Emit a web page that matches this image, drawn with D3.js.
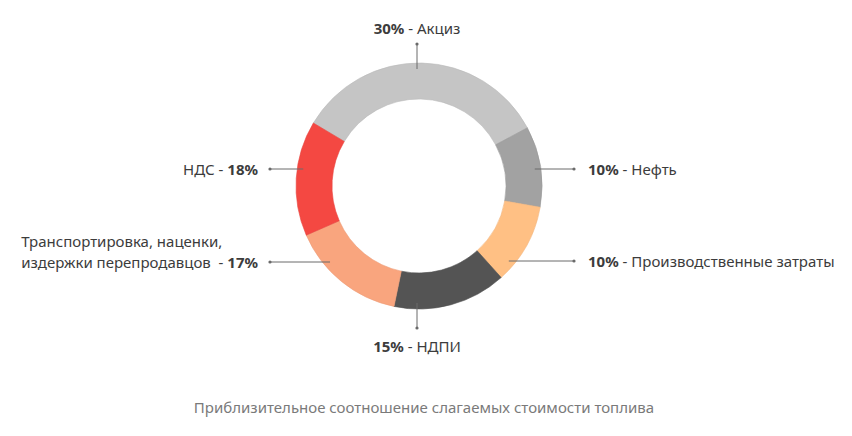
<!DOCTYPE html>
<html>
<head>
<meta charset="utf-8">
<script src="https://cdn.jsdelivr.net/npm/d3@7"></script>
<style>
  body { margin: 0; background: #fff; }
  text { font-family: "Noto Sans", "Open Sans", sans-serif; white-space: pre; }
</style>
</head>
<body>
<svg id="chart" width="852" height="436"></svg>
<script>
// data
const categories = ["Акциз", "Нефть", "Производственные затраты", "НДПИ",
    "Транспортировка, наценки,\nиздержки перепродавцов ", "НДС"];
const shares = [33.6, 10.6, 10.6, 14.9, 15.2, 15.1];   // slice sizes as drawn
const labelPct = [30, 10, 10, 15, 17, 18];             // percentages printed in labels
const colors = ["#c5c5c5", "#a2a2a2", "#ffc084", "#545454", "#f9a57e", "#f44842"];
const title = "Приблизительное соотношение слагаемых стоимости топлива";

// label layout: side of the donut and the coordinate of the leader line
const labelSide = ["top", "right", "right", "bottom", "left", "left"];
const labelPos = [417, 169, 261, 417, 262, 169];

const cx = 419, cy = 186, rOuter = 123, rInner = 87, rAnchor = 117;
const startAngle = -59.2 * Math.PI / 180;
const fontSize = 15;

let svg = d3.select("#chart");
let g = svg.append("g").attr("transform", `translate(${cx},${cy})`);

let pie = d3.pie()
    .value(d => d)
    .sort(null)
    .startAngle(startAngle)
    .endAngle(startAngle + 2 * Math.PI);

let arc = d3.arc().innerRadius(rInner).outerRadius(rOuter);

g.selectAll(".slice")
    .data(pie(shares))
    .enter().append("path")
    .attr("class", "slice")
    .attr("d", arc)
    .attr("fill", (d, i) => colors[i])
    .attr("stroke", (d, i) => d3.color(colors[i]).darker(0.15))
    .attr("stroke-width", 0.6);

let labels = svg.append("g");
const textColor = "#3c3c3c";

categories.forEach(function(name, i) {
    let side = labelSide[i], p = labelPos[i];
    let x1, y1, x2, y2;
    if (side == "top" || side == "bottom") {
        x1 = x2 = p;
        let h = Math.sqrt(rAnchor * rAnchor - (p - cx) * (p - cx));
        y1 = side == "top" ? cy - h : cy + h;
        y2 = side == "top" ? 44 : 328;
    } else {
        y1 = y2 = p;
        let w = Math.sqrt(rAnchor * rAnchor - (p - cy) * (p - cy));
        x1 = side == "right" ? cx + w : cx - w;
        x2 = side == "right" ? 574 : 270;
    }
    labels.append("line")
        .attr("x1", x1).attr("y1", y1).attr("x2", x2).attr("y2", y2)
        .attr("stroke", "#6a6a6a").attr("stroke-width", 1);
    labels.append("circle")
        .attr("cx", x2).attr("cy", y2).attr("r", 1.6)
        .attr("fill", "#6a6a6a");

    let pct = labelPct[i] + "%";
    let lines = name.split("\n");
    let t = labels.append("text")
        .attr("fill", textColor)
        .attr("font-size", fontSize)
        .attr("dominant-baseline", "central");

    if (side == "left") {
        // text ends at the leader dot, percentage after the name
        let lastY = p;
        let firstLines = lines.slice(0, -1);
        let last = t.attr("x", 258).attr("y", lastY).attr("text-anchor", "end");
        last.append("tspan").text(lines[lines.length - 1] + " - ");
        last.append("tspan").attr("font-weight", "bold").text(pct);
        let startX = 258 - last.node().getComputedTextLength();
        firstLines.forEach(function(l, k) {
            labels.append("text")
                .attr("fill", textColor)
                .attr("font-size", fontSize)
                .attr("dominant-baseline", "central")
                .attr("x", startX)
                .attr("y", lastY - 21 * (firstLines.length - k))
                .text(l);
        });
    } else {
        let x = side == "right" ? 588 : p;
        let y = side == "top" ? 28 : side == "bottom" ? 346 : p;
        t.attr("x", x).attr("y", y)
            .attr("text-anchor", side == "right" ? "start" : "middle");
        t.append("tspan").attr("font-weight", "bold").text(pct);
        t.append("tspan").text(" - " + name);
    }
});

svg.append("text")
    .attr("x", 424)
    .attr("y", 407)
    .attr("text-anchor", "middle")
    .attr("dominant-baseline", "central")
    .attr("font-size", fontSize)
    .attr("fill", "#7a7a7a")
    .text(title);
</script>
</body>
</html>
